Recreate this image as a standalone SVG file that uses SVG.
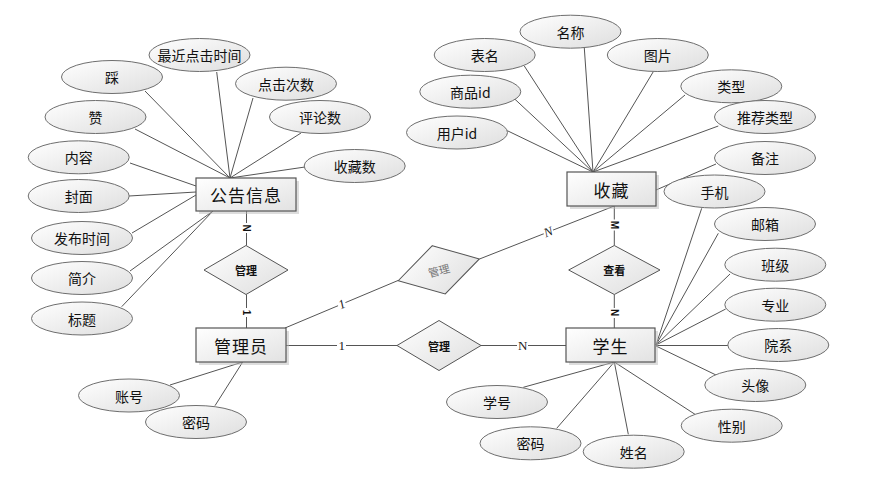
<svg xmlns="http://www.w3.org/2000/svg" width="871" height="500" viewBox="0 0 871 500">
<defs>
<linearGradient id="g" x1="0" y1="0" x2="1" y2="1">
<stop offset="0" stop-color="#ffffff"/>
<stop offset="1" stop-color="#dedede"/>
</linearGradient>
<linearGradient id="gb" x1="0" y1="0" x2="1" y2="1">
<stop offset="0" stop-color="#ffffff"/>
<stop offset="1" stop-color="#e2e2e2"/>
</linearGradient>
</defs>
<style>
.ln{stroke:#555;stroke-width:1;fill:none}
.el{fill:url(#g);stroke:#6e6e6e;stroke-width:1}
.ent{fill:url(#gb);stroke:#555;stroke-width:1.2}
.sh{fill:#bbb;opacity:0.5}
.dm{fill:url(#g);stroke:#555;stroke-width:1}
.t{font-family:"Noto Sans CJK SC","Liberation Sans",sans-serif;font-size:14px;fill:#111;text-anchor:middle;dominant-baseline:central}
.te{font-family:"Noto Sans CJK SC","Liberation Sans",sans-serif;font-size:17px;fill:#111;text-anchor:middle;dominant-baseline:central;letter-spacing:1px}
.td{font-family:"Noto Sans CJK SC","Liberation Sans",sans-serif;font-size:11px;font-weight:bold;fill:#111;text-anchor:middle;dominant-baseline:central}
.tdg{font-family:"Noto Sans CJK SC","Liberation Sans",sans-serif;font-size:11px;fill:#777;text-anchor:middle;dominant-baseline:central}
.lb{font-family:"Liberation Serif",serif;font-size:13px;fill:#222;text-anchor:middle;dominant-baseline:central}
.lbs{font-family:"Liberation Sans",sans-serif;font-size:10px;font-weight:bold;fill:#111;text-anchor:middle;dominant-baseline:central}
.bg{fill:#fff}
</style>
<g id="connectors">
<line class="ln" x1="145" y1="91" x2="230" y2="178"/>
<line class="ln" x1="216.7" y1="72" x2="230" y2="178"/>
<line class="ln" x1="253" y1="98" x2="230" y2="178"/>
<line class="ln" x1="301" y1="133" x2="230" y2="178"/>
<line class="ln" x1="305" y1="167" x2="230" y2="178"/>
<line class="ln" x1="135" y1="129" x2="230" y2="178"/>
<line class="ln" x1="130" y1="163" x2="196" y2="186"/>
<line class="ln" x1="129" y1="196" x2="196" y2="192"/>
<line class="ln" x1="132" y1="233" x2="196" y2="195"/>
<line class="ln" x1="130" y1="271" x2="213" y2="211"/>
<line class="ln" x1="121.7" y1="306.7" x2="213" y2="211"/>
<line class="ln" x1="170" y1="385" x2="242.7" y2="362"/>
<line class="ln" x1="215" y1="405.7" x2="242.7" y2="362"/>
<line class="ln" x1="584.3" y1="48" x2="593" y2="172"/>
<line class="ln" x1="524.3" y1="66" x2="593" y2="172"/>
<line class="ln" x1="653.3" y1="71.7" x2="593" y2="172"/>
<line class="ln" x1="515" y1="99.3" x2="593" y2="172"/>
<line class="ln" x1="685" y1="95" x2="593" y2="172"/>
<line class="ln" x1="507.3" y1="130.7" x2="593" y2="172"/>
<line class="ln" x1="718.3" y1="126" x2="593" y2="172"/>
<line class="ln" x1="716" y1="164" x2="656" y2="190"/>
<line class="ln" x1="701.7" y1="208.3" x2="656" y2="345"/>
<line class="ln" x1="718.3" y1="233.3" x2="656" y2="345"/>
<line class="ln" x1="730" y1="274" x2="656" y2="345"/>
<line class="ln" x1="725.7" y1="309" x2="656" y2="345"/>
<line class="ln" x1="656" y1="345.5" x2="728.3" y2="345.5"/>
<line class="ln" x1="716" y1="375" x2="656" y2="346"/>
<line class="ln" x1="523.3" y1="387.3" x2="614.3" y2="362"/>
<line class="ln" x1="556.7" y1="428.3" x2="614.3" y2="362"/>
<line class="ln" x1="628.3" y1="434.3" x2="614.3" y2="362"/>
<line class="ln" x1="695" y1="414.3" x2="614.3" y2="362"/>
<line class="ln" x1="246.5" y1="211" x2="246.5" y2="245.5"/>
<line class="ln" x1="246.5" y1="294.5" x2="246.5" y2="328"/>
<line class="ln" x1="286" y1="345.5" x2="397" y2="345.5"/>
<line class="ln" x1="481" y1="345.5" x2="566" y2="345.5"/>
<line class="ln" x1="285" y1="328" x2="398" y2="280.5"/>
<line class="ln" x1="479.5" y1="259" x2="614.3" y2="206"/>
<line class="ln" x1="614.3" y1="206" x2="614.3" y2="245.5"/>
<line class="ln" x1="614.3" y1="294.5" x2="614.3" y2="328"/>
</g>
<g id="labels">
<rect class="bg" x="241" y="223" width="11" height="10"/>
<text class="lbs" transform="translate(246.5,228) rotate(90)">N</text>
<rect class="bg" x="241" y="308" width="11" height="9"/>
<text class="lbs" transform="translate(246.5,312.5) rotate(90)">1</text>
<rect class="bg" x="337" y="339" width="9" height="13"/>
<text class="lb" x="341.7" y="345.5">1</text>
<rect class="bg" x="517" y="339" width="11" height="13"/>
<text class="lb" x="522.7" y="345.5">N</text>
<g transform="translate(341.7,304) rotate(-22.6)"><rect class="bg" x="-4" y="-6" width="8" height="12"/><text class="lb" x="0" y="0" font-style="italic">1</text></g>
<g transform="translate(548.3,231.7) rotate(-21)"><rect class="bg" x="-5" y="-6" width="10" height="12"/><text class="lb" x="0" y="0" font-style="italic">N</text></g>
<rect class="bg" x="608.5" y="219.5" width="11.5" height="11"/>
<text class="lbs" transform="translate(614.3,225) rotate(90)">M</text>
<rect class="bg" x="609" y="308" width="11" height="10"/>
<text class="lbs" transform="translate(614.3,312.7) rotate(90)">N</text>
</g>
<g id="e-gonggao"><rect class="sh" x="199" y="181" width="100" height="33"/><rect class="ent" x="196" y="178" width="100" height="33"/><text class="te" x="246" y="194.5">公告信息</text></g>
<g id="e-guanliyuan"><rect class="sh" x="199" y="331" width="90" height="34"/><rect class="ent" x="196" y="328" width="90" height="34"/><text class="te" x="241" y="345">管理员</text></g>
<g id="e-shoucang"><rect class="sh" x="570" y="175" width="89" height="34"/><rect class="ent" x="567" y="172" width="89" height="34"/><text class="te" x="611.5" y="189">收藏</text></g>
<g id="e-xuesheng"><rect class="sh" x="569" y="331" width="89" height="34"/><rect class="ent" x="566" y="328" width="89" height="34"/><text class="te" x="610.5" y="345">学生</text></g>
<g id="r-guanli1"><polygon class="dm" points="246,245.5 288,270 246,294.5 204,270"/><text class="td" x="246" y="270">管理</text></g>
<g id="r-guanli2"><polygon class="dm" points="439,320.5 481,345.5 439,370.5 397,345.5"/><text class="td" x="439" y="345.5">管理</text></g>
<g id="r-chakan"><polygon class="dm" points="614.3,245.5 660,270 614.3,294.5 568.7,270"/><text class="td" x="614.3" y="270">查看</text></g>
<g id="r-guanli3" transform="translate(438.8,269.8) rotate(-15)"><polygon class="dm" points="0,-25 42,0 0,25 -42,0"/><text class="tdg" x="0" y="0">管理</text></g>
<g id="a-cai"><ellipse class="el" cx="112" cy="77" rx="50.5" ry="16.5"/><text class="t" x="112" y="77">踩</text></g>
<g id="a-zuijin"><ellipse class="el" cx="199.5" cy="55" rx="50.5" ry="16.5"/><text class="t" x="199.5" y="55">最近点击时间</text></g>
<g id="a-dianji"><ellipse class="el" cx="286" cy="83.7" rx="50.5" ry="16.5"/><text class="t" x="286" y="83.7">点击次数</text></g>
<g id="a-zan"><ellipse class="el" cx="95.5" cy="117" rx="50.5" ry="16.5"/><text class="t" x="95.5" y="117">赞</text></g>
<g id="a-pinglun"><ellipse class="el" cx="320" cy="117" rx="50.5" ry="16.5"/><text class="t" x="320" y="117">评论数</text></g>
<g id="a-neirong"><ellipse class="el" cx="78.7" cy="157.3" rx="50.5" ry="16.5"/><text class="t" x="78.7" y="157.3">内容</text></g>
<g id="a-shoucangshu"><ellipse class="el" cx="354.7" cy="166" rx="50.5" ry="16.5"/><text class="t" x="354.7" y="166">收藏数</text></g>
<g id="a-fengmian"><ellipse class="el" cx="78.7" cy="196" rx="50.5" ry="16.5"/><text class="t" x="78.7" y="196">封面</text></g>
<g id="a-fabu"><ellipse class="el" cx="82" cy="238" rx="50.5" ry="16.5"/><text class="t" x="82" y="238">发布时间</text></g>
<g id="a-jianjie"><ellipse class="el" cx="82" cy="278" rx="50.5" ry="16.5"/><text class="t" x="82" y="278">简介</text></g>
<g id="a-biaoti"><ellipse class="el" cx="82" cy="318.5" rx="50.5" ry="16.5"/><text class="t" x="82" y="318.5">标题</text></g>
<g id="a-zhanghao"><ellipse class="el" cx="129" cy="395.5" rx="50.5" ry="16.5"/><text class="t" x="129" y="395.5">账号</text></g>
<g id="a-mima1"><ellipse class="el" cx="196" cy="422" rx="50.5" ry="16.5"/><text class="t" x="196" y="422">密码</text></g>
<g id="a-mingcheng"><ellipse class="el" cx="570.5" cy="31.7" rx="50.5" ry="16.5"/><text class="t" x="570.5" y="31.7">名称</text></g>
<g id="a-biaoming"><ellipse class="el" cx="484.7" cy="55" rx="50.5" ry="16.5"/><text class="t" x="484.7" y="55">表名</text></g>
<g id="a-tupian"><ellipse class="el" cx="657.8" cy="55" rx="50.5" ry="16.5"/><text class="t" x="657.8" y="55">图片</text></g>
<g id="a-shangpin"><ellipse class="el" cx="470.3" cy="91.7" rx="50.5" ry="16.5"/><text class="t" x="470.3" y="91.7">商品id</text></g>
<g id="a-leixing"><ellipse class="el" cx="731.3" cy="86.3" rx="50.5" ry="16.5"/><text class="t" x="731.3" y="86.3">类型</text></g>
<g id="a-yonghu"><ellipse class="el" cx="457" cy="132.5" rx="50.5" ry="16.5"/><text class="t" x="457" y="132.5">用户id</text></g>
<g id="a-tuijian"><ellipse class="el" cx="765" cy="117" rx="50.5" ry="16.5"/><text class="t" x="765" y="117">推荐类型</text></g>
<g id="a-beizhu"><ellipse class="el" cx="765" cy="158" rx="50.5" ry="16.5"/><text class="t" x="765" y="158">备注</text></g>
<g id="a-shouji"><ellipse class="el" cx="714.5" cy="191.5" rx="50.5" ry="16.5"/><text class="t" x="714.5" y="191.5">手机</text></g>
<g id="a-youxiang"><ellipse class="el" cx="765" cy="224" rx="50.5" ry="16.5"/><text class="t" x="765" y="224">邮箱</text></g>
<g id="a-banji"><ellipse class="el" cx="775.3" cy="264.7" rx="50.5" ry="16.5"/><text class="t" x="775.3" y="264.7">班级</text></g>
<g id="a-zhuanye"><ellipse class="el" cx="775.3" cy="304.7" rx="50.5" ry="16.5"/><text class="t" x="775.3" y="304.7">专业</text></g>
<g id="a-yuanxi"><ellipse class="el" cx="778.3" cy="345" rx="50.5" ry="16.5"/><text class="t" x="778.3" y="345">院系</text></g>
<g id="a-touxiang"><ellipse class="el" cx="755.3" cy="385" rx="50.5" ry="16.5"/><text class="t" x="755.3" y="385">头像</text></g>
<g id="a-xingbie"><ellipse class="el" cx="731.7" cy="425.7" rx="50.5" ry="16.5"/><text class="t" x="731.7" y="425.7">性别</text></g>
<g id="a-xingming"><ellipse class="el" cx="633.7" cy="451.7" rx="50.5" ry="16.5"/><text class="t" x="633.7" y="451.7">姓名</text></g>
<g id="a-mima2"><ellipse class="el" cx="530.5" cy="443.3" rx="50.5" ry="16.5"/><text class="t" x="530.5" y="443.3">密码</text></g>
<g id="a-xuehao"><ellipse class="el" cx="497" cy="402" rx="50.5" ry="16.5"/><text class="t" x="497" y="402">学号</text></g>
</svg>
